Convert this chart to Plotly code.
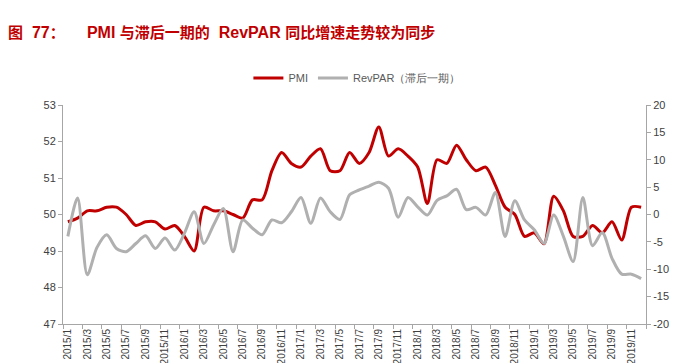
import plotly.graph_objects as go

months = [
    "2015/1", "2015/2", "2015/3", "2015/4", "2015/5", "2015/6", "2015/7", "2015/8", "2015/9", "2015/10", "2015/11", "2015/12",
    "2016/1", "2016/2", "2016/3", "2016/4", "2016/5", "2016/6", "2016/7", "2016/8", "2016/9", "2016/10", "2016/11", "2016/12",
    "2017/1", "2017/2", "2017/3", "2017/4", "2017/5", "2017/6", "2017/7", "2017/8", "2017/9", "2017/10", "2017/11", "2017/12",
    "2018/1", "2018/2", "2018/3", "2018/4", "2018/5", "2018/6", "2018/7", "2018/8", "2018/9", "2018/10", "2018/11", "2018/12",
    "2019/1", "2019/2", "2019/3", "2019/4", "2019/5", "2019/6", "2019/7", "2019/8", "2019/9", "2019/10", "2019/11", "2019/12",
]

pmi = [
    49.8, 49.9, 50.1, 50.1, 50.2, 50.2, 50.0, 49.7, 49.8, 49.8, 49.6, 49.7,
    49.4, 49.0, 50.2, 50.1, 50.1, 50.0, 49.9, 50.4, 50.4, 51.2, 51.7, 51.4,
    51.3, 51.6, 51.8, 51.2, 51.2, 51.7, 51.4, 51.7, 52.4, 51.6, 51.8, 51.6,
    51.3, 50.3, 51.5, 51.4, 51.9, 51.5, 51.2, 51.3, 50.8, 50.2, 50.0, 49.4,
    49.5, 49.2, 50.5, 50.1, 49.4, 49.4, 49.7, 49.5, 49.8, 49.3, 50.2, 50.2,
]

revpar_lag = [
    -4.0, 3.0, -11.0, -6.0, -3.7, -6.2, -6.8, -5.3, -3.9, -6.2, -4.3, -6.5,
    -3.4, 0.5, -5.3, -1.9, 1.1, -6.8, -1.0, -2.5, -3.7, -1.0, -1.5, 0.5,
    3.1, -1.6, 3.0, 0.5, -0.9, 3.6, 4.5, 5.2, 5.9, 4.8, -0.5, 3.1,
    1.4, -0.1, 2.6, 3.4, 4.6, 0.9, 1.3, -0.1, 4.0, -4.0, 2.5, -1.0,
    -2.8, -5.3, -0.1, -4.0, -8.6, 3.1, -5.7, -3.3, -8.0, -10.9, -10.9, -11.7,
]

left_ticks = [47, 48, 49, 50, 51, 52, 53]
right_ticks = [-20, -15, -10, -5, 0, 5, 10, 15, 20]
right_ticktext = ["-20", "-15", "-10", "-5", "0", "5", "10", "15", "20"]

NB = "\u00a0"
LAT = '<span style="font-size:16px">{}</span>'
title_text = ("图" + LAT.format(NB * 2 + "77") + "：" + LAT.format(NB * 5 + "PMI" + NB)
              + "与滞后一期的" + LAT.format(NB * 2 + "RevPAR" + NB) + "同比增速走势较为同步")
name_pmi = "PMI"
name_rev = "RevPAR（滞后一期）"

RED = "#C00000"
GRAY = "#B0B0B0"
AXIS = "#A6A6A6"
TXT = "#404040"
FONT = "Liberation Sans, Arial, sans-serif"

# the page body has an 8px margin, so the figure is sized to fill the rest of the window
W, H = 673, 355

fig = go.Figure()
fig.add_trace(go.Scatter(x=months, y=pmi, name=name_pmi, mode="lines",
                         line=dict(color=RED, width=3, shape="spline", smoothing=0.8),
                         yaxis="y"))
fig.add_trace(go.Scatter(x=months, y=revpar_lag, name=name_rev, mode="lines",
                         line=dict(color=GRAY, width=3, shape="spline", smoothing=0.8),
                         yaxis="y2"))

fig.update_layout(
    width=W, height=H,
    margin=dict(l=55, r=35, t=97, b=39),
    paper_bgcolor="white", plot_bgcolor="white",
    font=dict(family=FONT, size=11, color=TXT),
    title=dict(text="<b>" + title_text + "</b>", x=0, xref="container", xanchor="left",
               y=1 - 25 / H, yref="container", yanchor="middle", pad=dict(l=0),
               font=dict(family="Liberation Sans, Noto Sans CJK SC, sans-serif", size=15, color=RED)),
    showlegend=True,
    legend=dict(orientation="h", x=0.318, xanchor="left", y=1.123, yanchor="middle",
                font=dict(family=FONT, size=11, color="#595959"),
                bgcolor="rgba(0,0,0,0)", itemwidth=30, tracegroupgap=0),
    xaxis=dict(type="category", range=[-0.5, 59.5], dtick=2, tickangle=-90,
               showline=True, linecolor=AXIS, linewidth=1, showgrid=False, zeroline=False,
               ticks="outside", tickson="boundaries", ticklen=4, tickcolor=AXIS,
               tickfont=dict(family=FONT, size=10, color=TXT), automargin=False),
    yaxis=dict(range=[47, 53], tickvals=left_ticks, showline=True, linecolor=AXIS, linewidth=1,
               showgrid=False, zeroline=False, ticks="outside", ticklen=4, tickcolor=AXIS,
               tickfont=dict(family=FONT, size=11, color=TXT), automargin=False),
    yaxis2=dict(range=[-20, 20], tickvals=right_ticks, ticktext=right_ticktext, overlaying="y",
                side="right", showline=True, linecolor=AXIS, linewidth=1, showgrid=False,
                zeroline=False, ticks="outside", ticklen=4, tickcolor=AXIS,
                tickfont=dict(family=FONT, size=11, color=TXT), automargin=False),
)

fig.write_html("out.html")
